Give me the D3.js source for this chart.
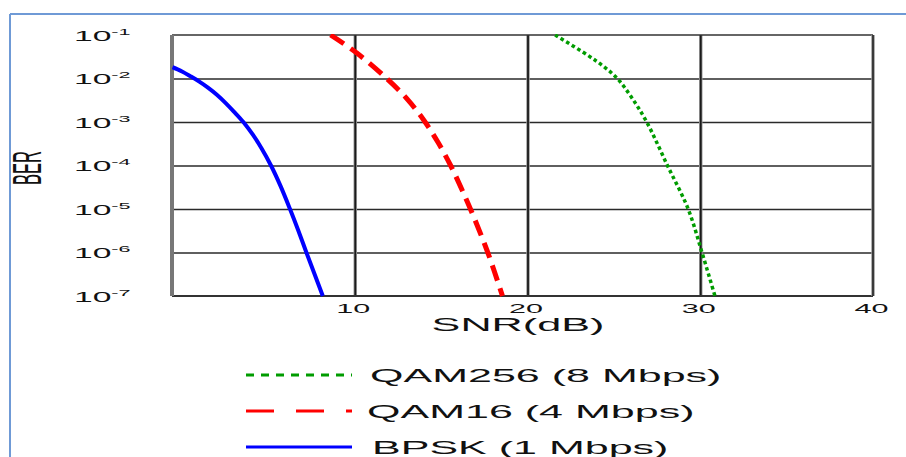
<!DOCTYPE html>
<html>
<head>
<meta charset="utf-8">
<script src="https://cdn.jsdelivr.net/npm/d3@7"></script>
<style>
  html, body { margin: 0; padding: 0; background: #fff; }
  svg { display: block; }
  text { font-family: "Liberation Sans", Arial, sans-serif; fill: #111; }
</style>
</head>
<body>
<svg id="chart" width="906" height="457"></svg>
<script>
// ---- data ----
const xTicks = [10, 20, 30, 40];
const yTicks = [1e-1, 1e-2, 1e-3, 1e-4, 1e-5, 1e-6, 1e-7];
const yTickExponents = ["-1", "-2", "-3", "-4", "-5", "-6", "-7"];

const bpskSnr = [-0.55, 0.0, 0.5, 1.0, 1.5, 2.0, 2.5, 3.0, 3.55, 4.1, 4.6, 5.15, 5.7, 6.25, 6.72, 7.2, 7.67, 8.15];
const bpskBer = [1.82e-2, 1.45e-2, 1.12e-2, 8.5e-3, 6.2e-3, 4.3e-3, 2.8e-3, 1.74e-3, 1e-3,
                 5.1e-4, 2.5e-4, 1e-4, 3.4e-5, 1e-5, 3.3e-6, 1e-6, 3.2e-7, 1e-7];

const qam16Snr = [8.6, 10.1, 11.85, 13.0, 14.0, 14.8, 15.55, 16.2, 16.75, 17.7, 18.55];
const qam16Ber = [1e-1, 3.9e-2, 1e-2, 3.5e-3, 1.1e-3, 3.5e-4, 1e-4, 2.8e-5, 8.9e-6, 1e-6, 1e-7];

const qam256Snr = [21.6, 23.45, 24.4, 25.2, 26.0, 26.9, 28.1, 29.3, 30.1, 30.85];
const qam256Ber = [1e-1, 3.5e-2, 1.9e-2, 1e-2, 3.8e-3, 1e-3, 1e-4, 1e-5, 1e-6, 1e-7];

const legendLabels = ["QAM256 (8 Mbps)", "QAM16 (4 Mbps)", "BPSK (1 Mbps)"];
const xAxisTitle = "SNR(dB)";
const yAxisTitle = "BER";

// ---- layout ----
const svg = d3.select("#chart");
const L = 172, R = 873, T = 35, B = 296;
const SX = 2.4; // horizontal text stretch seen in the reference

const x = d3.scaleLinear().domain([-0.58, 40]).range([L, R]);
const y = d3.scaleLog().domain([1e-7, 1e-1]).range([B, T]);

// outer frame (blue)
svg.append("line").attr("x1", 10).attr("y1", 14).attr("x2", 906).attr("y2", 14)
  .attr("stroke", "#6f9ad6").attr("stroke-width", 2);
svg.append("line").attr("x1", 10).attr("y1", 14).attr("x2", 10).attr("y2", 457)
  .attr("stroke", "#6f9ad6").attr("stroke-width", 2);

// horizontal grid lines
const hGrid = svg.append("g").attr("transform", `translate(${L},0)`)
  .call(d3.axisLeft(y).tickValues(yTicks.slice(1, -1)).tickSize(-(R - L)).tickFormat(""));
hGrid.select(".domain").remove();
hGrid.selectAll("line").attr("stroke", "#2a2a2a").attr("stroke-width", 1.4);

// vertical grid lines
const vGrid = svg.append("g").attr("transform", `translate(0,${B})`)
  .call(d3.axisBottom(x).tickValues(xTicks.slice(0, -1)).tickSize(-(B - T)).tickFormat(""));
vGrid.select(".domain").remove();
vGrid.selectAll("line").attr("stroke", "#999").attr("stroke-width", 3.5);
const vGrid2 = svg.append("g").attr("transform", `translate(0,${B})`)
  .call(d3.axisBottom(x).tickValues(xTicks.slice(0, -1)).tickSize(-(B - T)).tickFormat(""));
vGrid2.select(".domain").remove();
vGrid2.selectAll("line").attr("stroke", "#1a1a1a").attr("stroke-width", 1.8);

// plot border
svg.append("line").attr("x1", L).attr("y1", T).attr("x2", R).attr("y2", T)
  .attr("stroke", "#333").attr("stroke-width", 1.5);
svg.append("line").attr("x1", L).attr("y1", B).attr("x2", R).attr("y2", B)
  .attr("stroke", "#333").attr("stroke-width", 2);
svg.append("line").attr("x1", L).attr("y1", T).attr("x2", L).attr("y2", B)
  .attr("stroke", "#777").attr("stroke-width", 4);
svg.append("line").attr("x1", R).attr("y1", T).attr("x2", R).attr("y2", B)
  .attr("stroke", "#999").attr("stroke-width", 3.5);
svg.append("line").attr("x1", R).attr("y1", T).attr("x2", R).attr("y2", B)
  .attr("stroke", "#222").attr("stroke-width", 1.6);

// y tick labels (10^-n), stretched horizontally
const yAx = svg.append("g").attr("transform", "translate(74,0)")
  .call(d3.axisLeft(y).tickValues(yTicks).tickSize(0).tickFormat(""));
yAx.select(".domain").remove();
yAx.selectAll(".tick").each(function(d, i) {
  const t = d3.select(this).append("text")
    .attr("transform", `translate(0,5) scale(${SX},1)`)
    .attr("text-anchor", "start")
    .attr("font-size", 14)
    .attr("fill", "#111");
  t.append("tspan").text("10");
  t.append("tspan").attr("font-size", 9).attr("dy", -6).text(yTickExponents[i]);
});

// x tick labels
const xAx = svg.append("g").attr("transform", `translate(-2,${B})`)
  .call(d3.axisBottom(x).tickValues(xTicks).tickSize(0).tickFormat(d => d));
xAx.select(".domain").remove();
xAx.selectAll("text")
  .attr("y", 0).attr("dy", 0)
  .attr("transform", `translate(0,17) scale(2.35,1)`)
  .attr("font-size", 13).attr("fill", "#111")
  .attr("font-family", "Liberation Sans, Arial, sans-serif");

// axis titles
svg.append("text")
  .attr("transform", `translate(518,331) scale(${SX},1)`)
  .attr("text-anchor", "middle").attr("font-size", 18)
  .text(xAxisTitle);
svg.append("text")
  .attr("transform", `translate(41,168) scale(2.5,1) rotate(-90)`)
  .attr("text-anchor", "middle").attr("font-size", 16.5)
  .text(yAxisTitle);

// series
const line = d3.line().x(d => x(d[0])).y(d => y(d[1])).curve(d3.curveCatmullRom.alpha(0.5));
const series = [
  { snr: qam256Snr, ber: qam256Ber, color: "#009c00", width: 3.5, dash: "3.5,3" },
  { snr: qam16Snr,  ber: qam16Ber,  color: "#ff0000", width: 5,   dash: "16,8" },
  { snr: bpskSnr,   ber: bpskBer,   color: "#0000ff", width: 4,   dash: null }
];
svg.append("clipPath").attr("id", "plotclip").append("rect")
  .attr("x", L).attr("y", T - 1).attr("width", R - L).attr("height", B - T + 2);
series.forEach(s => {
  svg.append("path")
    .datum(s.snr.map((v, i) => [v, s.ber[i]]))
    .attr("d", line)
    .attr("fill", "none")
    .attr("stroke", s.color)
    .attr("stroke-width", s.width)
    .attr("stroke-dasharray", s.dash)
    .attr("clip-path", "url(#plotclip)");
});

// legend
const legendY = [375, 411, 447];
const legendStyles = [
  { color: "#009c00", width: 3, dash: "8,7" },
  { color: "#ff0000", width: 3, dash: "28,22" },
  { color: "#0000ff", width: 3, dash: null }
];
const legendLineX = d3.scaleLinear().domain([0, 1]).range([246, 352]);
legendLabels.forEach((lab, i) => {
  const g = svg.append("g");
  g.append("line")
    .attr("x1", legendLineX(0)).attr("x2", legendLineX(1))
    .attr("y1", legendY[i]).attr("y2", legendY[i])
    .attr("stroke", legendStyles[i].color)
    .attr("stroke-width", legendStyles[i].width)
    .attr("stroke-dasharray", legendStyles[i].dash);
  g.append("text")
    .attr("transform", `translate(${[370, 367, 372][i]},${legendY[i] + 7}) scale(2.39,1)`)
    .attr("font-size", 18)
    .text(lab);
});
</script>
</body>
</html>
